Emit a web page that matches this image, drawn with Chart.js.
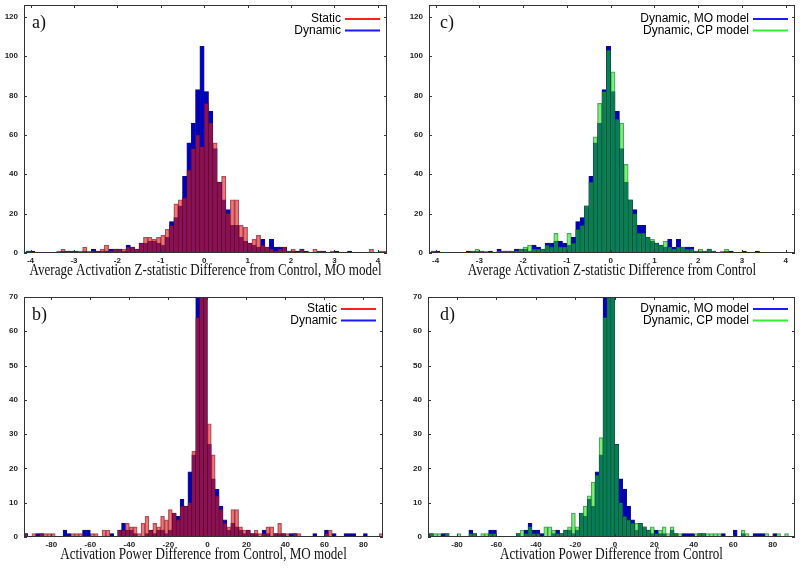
<!DOCTYPE html>
<html>
<head>
<meta charset="utf-8">
<script src="https://cdn.jsdelivr.net/npm/chart.js@4.4.1/dist/chart.umd.min.js"></script>
<style>
  html, body { margin: 0; padding: 0; background: #fff; }
  #wrap { position: relative; width: 800px; height: 568px; overflow: hidden; }
  .panel { position: absolute; width: 400px; height: 284px; }
</style>
</head>
<body>
<div id="wrap">
  <div class="panel" style="left:0;top:0"><canvas id="pa" width="400" height="284"></canvas></div>
  <div class="panel" style="left:0;top:284px"><canvas id="pb" width="400" height="284"></canvas></div>
  <div class="panel" style="left:400px;top:0"><canvas id="pc" width="400" height="284"></canvas></div>
  <div class="panel" style="left:400px;top:284px"><canvas id="pd" width="400" height="284"></canvas></div>
</div>
<script>
// Z-statistic histograms: 84 bins of width 0.1, first bin starts at -4.2
var zBinStart = -4.2, zBinWidth = 0.1;
var zDynamicMO = [
  0, 1, 1, 0, 0, 0, 0, 0, 0, 1, 1, 1, 1, 0, 1, 0, 2, 1, 1, 1, 2,
  2, 2, 1, 4, 3, 2, 5, 5, 6, 6, 5, 4, 8, 16, 18, 24, 39, 56, 66, 83,
  105, 82, 72, 53, 36, 27, 22, 14, 14, 8, 6, 5, 4, 3, 7, 3, 7, 3, 3, 3,
  1, 1, 1, 2, 1, 0, 0, 1, 1, 0, 0, 1, 0, 0, 1, 0, 0, 0, 0, 0, 0, 0, 0
];
var zStatic = [
  0, 1, 0, 0, 0, 0, 0, 0, 1, 2, 1, 1, 1, 1, 3, 1, 1, 1, 2, 4, 1,
  2, 2, 2, 3, 3, 2, 5, 8, 8, 7, 8, 9, 12, 14, 25, 27, 28, 42, 53, 60,
  54, 76, 66, 56, 36, 39, 20, 27, 27, 14, 13, 5, 7, 9, 4, 3, 2, 1, 2, 3,
  1, 2, 0, 2, 0, 0, 2, 1, 1, 0, 1, 0, 0, 0, 0, 0, 0, 0, 0, 2, 0, 1, 1
];
var zDynamicCP = [
  0, 1, 0, 0, 0, 0, 0, 0, 0, 0, 1, 2, 1, 1, 0, 0, 1, 1, 1, 1, 1,
  2, 3, 4, 2, 2, 2, 4, 3, 10, 3, 3, 10, 5, 12, 14, 24, 36, 59, 76, 82,
  103, 92, 68, 66, 45, 27, 20, 10, 10, 8, 7, 5, 4, 6, 3, 2, 3, 3, 2, 2,
  1, 2, 1, 2, 1, 0, 1, 2, 0, 0, 0, 0, 0, 0, 0, 0, 0, 0, 0, 0, 0, 0, 0
];

// Power histograms: 94 bins of width 2, first bin starts at -96
var pBinStart = -96, pBinWidth = 2;
var pDynamicMO = [
  0, 1, 0, 0, 1, 1, 0, 0, 0, 0, 0, 2, 1, 0, 0, 0, 2, 2, 0, 0, 0, 0, 0, 1,
  0, 2, 4, 2, 2, 1, 0, 0, 1, 2, 1, 2, 2, 1, 2, 7, 6, 11, 9, 19, 24, 95, 200, 150,
  27, 17, 14, 9, 5, 2, 4, 3, 2, 1, 2, 1, 1, 0, 2, 1, 0, 1, 1, 1, 0, 1, 1, 0,
  0, 0, 0, 1, 0, 0, 2, 0, 1, 0, 0, 1, 1, 1, 0, 0, 1, 0, 0, 0, 0, 0
];
var pStatic = [
  0, 1, 0, 1, 0, 1, 1, 1, 1, 0, 0, 0, 0, 1, 1, 1, 0, 0, 1, 1, 0, 2, 2, 0,
  0, 2, 2, 4, 3, 3, 1, 4, 6, 2, 4, 3, 6, 5, 8, 7, 5, 9, 9, 10, 25, 64, 190, 160,
  33, 24, 12, 8, 4, 3, 8, 8, 3, 2, 2, 1, 2, 1, 1, 3, 3, 1, 4, 1, 1, 0, 1, 1,
  0, 0, 0, 0, 0, 0, 1, 2, 0, 0, 0, 0, 0, 0, 0, 0, 0, 0, 0, 0, 1, 0
];
var pDynamicCP = [
  0, 1, 1, 1, 0, 1, 0, 0, 1, 0, 0, 1, 1, 0, 1, 1, 1, 1, 0, 0, 0, 0, 0, 1,
  2, 1, 3, 1, 1, 0, 3, 3, 2, 1, 1, 2, 3, 7, 3, 7, 9, 12, 16, 18, 29, 64, 200, 150,
  27, 10, 6, 5, 4, 4, 4, 3, 2, 3, 1, 2, 3, 1, 3, 1, 1, 0, 0, 0, 1, 1, 1, 1,
  1, 1, 1, 0, 0, 0, 0, 0, 2, 1, 0, 0, 0, 0, 1, 0, 0, 1, 0, 1, 0, 0
];

var zTicks = [-4, -3, -2, -1, 0, 1, 2, 3, 4];
var zCountTicks = [0, 20, 40, 60, 80, 100, 120];
var pTicks = [-80, -60, -40, -20, 0, 20, 40, 60, 80];
var pCountTicks = [0, 10, 20, 30, 40, 50, 60, 70];

var BLUE = { fill: '#0000c4', border: 'rgba(0,0,60,0.9)', line: '#1a1aff' };
var RED = { fill: 'rgba(222,28,28,0.6)', border: 'rgba(90,0,30,0.6)', line: '#ff2020' };
var GREEN = { fill: 'rgba(20,222,20,0.55)', border: 'rgba(0,70,35,0.6)', line: '#33ee33' };

function toPoints(start, width, values) {
  return values.map(function(v, i) { return { x: start + width * (i + 0.5), y: v }; });
}

// frame, inward ticks, panel letter, legend and axis title
var decor = {
  id: 'decor',
  afterDraw: function(chart, args, o) {
    var ctx = chart.ctx, a = chart.chartArea;
    var xs = chart.scales.x, ys = chart.scales.y;
    ctx.save();
    ctx.strokeStyle = '#333';
    ctx.lineWidth = 1;
    ctx.beginPath();
    xs.ticks.forEach(function(t) {
      var px = Math.round(xs.getPixelForValue(t.value)) + 0.5;
      ctx.moveTo(px, a.bottom); ctx.lineTo(px, a.bottom - 3);
      ctx.moveTo(px, a.top); ctx.lineTo(px, a.top + 3);
    });
    ys.ticks.forEach(function(t) {
      var py = Math.round(ys.getPixelForValue(t.value)) + 0.5;
      ctx.moveTo(a.left, py); ctx.lineTo(a.left + 3, py);
      ctx.moveTo(a.right, py); ctx.lineTo(a.right - 3, py);
    });
    ctx.stroke();
    ctx.strokeRect(Math.round(a.left) + 0.5, Math.round(a.top) + 0.5,
                   Math.round(a.right - a.left) - 1, Math.round(a.bottom - a.top) - 1);

    ctx.fillStyle = '#111';
    ctx.font = '18px "Liberation Serif"';
    ctx.textAlign = 'left';
    ctx.textBaseline = 'alphabetic';
    ctx.fillText(o.letter, a.left + o.letterDx, a.top + 23);

    ctx.font = '12px "Liberation Sans"';
    ctx.textAlign = 'right';
    ctx.textBaseline = 'middle';
    o.legend.forEach(function(item, i) {
      var y = a.top + o.legendTop + 11.5 * i;
      ctx.fillStyle = '#000';
      ctx.fillText(item.text, a.right - 46, y);
      ctx.strokeStyle = item.color;
      ctx.lineWidth = 2;
      ctx.beginPath();
      ctx.moveTo(a.right - 42, y); ctx.lineTo(a.right - 7, y);
      ctx.stroke();
    });

    ctx.translate((a.left + a.right) / 2, a.bottom + 18);
    ctx.scale(0.77, 1);
    ctx.font = '17px "Liberation Serif"';
    ctx.textAlign = 'center';
    ctx.fillStyle = '#111';
    ctx.fillText(o.title, 0, 0);
    ctx.restore();
  }
};

function noEdgePadding(s) {
  s.paddingTop = 0; s.paddingBottom = 0; s.paddingLeft = 0; s.paddingRight = 0;
}

function makePanel(id, p) {
  var tickFont = { family: 'Liberation Sans', size: 8, weight: 'bold' };
  return new Chart(document.getElementById(id), {
    type: 'bar',
    data: {
      datasets: [
        { label: p.front.name, data: toPoints(p.start, p.width, p.front.values),
          backgroundColor: p.front.style.fill, borderColor: p.front.style.border,
          borderWidth: 0.6, borderSkipped: false, order: 1 },
        { label: p.back.name, data: toPoints(p.start, p.width, p.back.values),
          backgroundColor: p.back.style.fill, borderColor: p.back.style.border,
          borderWidth: 0.6, borderSkipped: false, order: 2 }
      ]
    },
    options: {
      responsive: false,
      animation: false,
      layout: { padding: p.pad },
      datasets: { bar: { grouped: false, barPercentage: 1, categoryPercentage: 1 } },
      plugins: {
        legend: { display: false },
        tooltip: { enabled: false },
        decor: { letter: p.letter, letterDx: p.letterDx, legend: p.legend, legendTop: p.legendTop, title: p.title }
      },
      scales: {
        x: {
          type: 'linear', min: p.xMin, max: p.xMax, offset: false,
          grid: { display: false, drawTicks: false, offset: false },
          border: { display: false },
          ticks: { font: tickFont, color: '#222', padding: 3, maxRotation: 0, autoSkip: false },
          afterBuildTicks: function(s) { s.ticks = p.xTicks.map(function(v) { return { value: v }; }); },
          afterFit: function(s) { s.height = 31; noEdgePadding(s); }
        },
        y: {
          min: 0, max: p.yMax,
          grid: { display: false, drawTicks: false },
          border: { display: false },
          ticks: { font: tickFont, color: '#222', padding: 6, autoSkip: false },
          afterBuildTicks: function(s) { s.ticks = p.yTicks.map(function(v) { return { value: v }; }); },
          afterFit: function(s) { s.width = p.yWidth; noEdgePadding(s); }
        }
      }
    },
    plugins: [decor]
  });
}

makePanel('pa', {
  start: zBinStart, width: zBinWidth, xMin: -4.15, xMax: 4.21, yMax: 126,
  xTicks: zTicks, yTicks: zCountTicks, yWidth: 24,
  pad: { left: 0, right: 13, top: 5, bottom: 0 },
  front: { name: 'Static', values: zStatic, style: RED },
  back: { name: 'Dynamic', values: zDynamicMO, style: BLUE },
  letter: 'a)', letterDx: 8, legendTop: 14,
  legend: [{ text: 'Static', color: RED.line }, { text: 'Dynamic', color: BLUE.line }],
  title: 'Average Activation Z-statistic Difference from Control, MO model'
});

makePanel('pb', {
  start: pBinStart, width: pBinWidth, xMin: -94, xMax: 90, yMax: 70,
  xTicks: pTicks, yTicks: pCountTicks, yWidth: 24,
  pad: { left: 0, right: 17, top: 13, bottom: 0 },
  front: { name: 'Static', values: pStatic, style: RED },
  back: { name: 'Dynamic', values: pDynamicMO, style: BLUE },
  letter: 'b)', letterDx: 8, legendTop: 12,
  legend: [{ text: 'Static', color: RED.line }, { text: 'Dynamic', color: BLUE.line }],
  title: 'Activation Power Difference from Control, MO model'
});

makePanel('pc', {
  start: zBinStart, width: zBinWidth, xMin: -4.15, xMax: 4.21, yMax: 126,
  xTicks: zTicks, yTicks: zCountTicks, yWidth: 29,
  pad: { left: 0, right: 5, top: 5, bottom: 0 },
  front: { name: 'Dynamic, CP model', values: zDynamicCP, style: GREEN },
  back: { name: 'Dynamic, MO model', values: zDynamicMO, style: BLUE },
  letter: 'c)', letterDx: 11, legendTop: 14,
  legend: [{ text: 'Dynamic, MO model', color: BLUE.line }, { text: 'Dynamic, CP model', color: GREEN.line }],
  title: 'Average Activation Z-statistic Difference from Control'
});

makePanel('pd', {
  start: pBinStart, width: pBinWidth, xMin: -94.7, xMax: 91.3, yMax: 70,
  xTicks: pTicks, yTicks: pCountTicks, yWidth: 28,
  pad: { left: 0, right: 5, top: 13, bottom: 0 },
  front: { name: 'Dynamic, CP model', values: pDynamicCP, style: GREEN },
  back: { name: 'Dynamic, MO model', values: pDynamicMO, style: BLUE },
  letter: 'd)', letterDx: 12, legendTop: 12,
  legend: [{ text: 'Dynamic, MO model', color: BLUE.line }, { text: 'Dynamic, CP model', color: GREEN.line }],
  title: 'Activation Power Difference from Control'
});
</script>
</body>
</html>
